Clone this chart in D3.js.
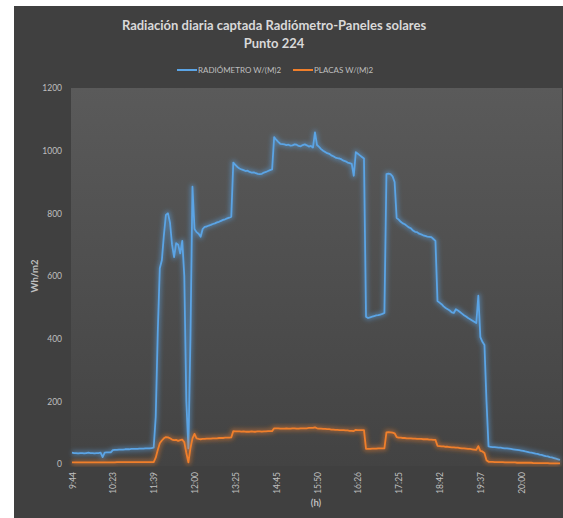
<!DOCTYPE html>
<html>
<head>
<meta charset="utf-8">
<script src="https://cdn.jsdelivr.net/npm/d3@7"></script>
<style>
  html, body { margin: 0; padding: 0; background: #ffffff; }
  svg { display: block; }
  text { font-family: Lato, "Open Sans", sans-serif; }
</style>
</head>
<body>
<svg id="chart" width="563" height="518"></svg>
<script>
// Sample times shown on the category axis (one label every 20 samples)
const timeLabels = ["9:44", "10:23", "11:39", "12:00", "13:25", "14:45", "15:50", "16:26", "17:25", "18:42", "19:37", "20:00"];
const samplesPerLabel = 20;

// Radiómetro readings, W/m²
const radiometro = [
  36, 35, 35, 34, 35, 35, 34, 35, 36, 35, 35, 34, 35, 35, 36, 22, 36, 37, 37, 37,
  44, 45, 45, 46, 46, 46, 47, 47, 47, 48, 48, 48, 48, 49, 49, 49, 50, 50, 50, 51,
  52, 150, 420, 625, 650, 730, 795, 800, 770, 700, 660, 705, 700, 672, 712, 600, 200, 50, 400, 885,
  750, 740, 735, 725, 750, 757, 758, 761, 763, 766, 768, 771, 773, 776, 779, 781, 784, 786, 789, 962,
  955, 948, 943, 940, 938, 935, 936, 932, 930, 931, 928, 926, 925, 926, 930, 932, 935, 938, 940, 1043,
  1035, 1028, 1022, 1021, 1020, 1018, 1019, 1016, 1017, 1020, 1019, 1015, 1014, 1018, 1020, 1017, 1013, 1015, 1010, 1058,
  1018, 1012, 1005, 1000, 996, 992, 990, 985, 982, 978, 976, 975, 972, 968, 966, 962, 960, 958, 920, 995,
  990, 985, 980, 975, 470, 466, 468, 470, 472, 474, 475, 477, 479, 482, 925, 927, 925, 918, 900, 785,
  780, 773, 768, 765, 760, 755, 752, 745, 741, 740, 735, 733, 730, 728, 726, 725, 724, 718, 712, 520,
  515, 510, 503, 498, 494, 490, 484, 482, 494, 490, 485, 480, 475, 471, 466, 462, 458, 454, 450, 537,
  405, 390, 380, 200, 56, 55, 54, 54, 53, 52, 52, 51, 50, 50, 49, 48, 47, 46, 45, 44,
  43, 42, 40, 39, 37, 36, 35, 33, 32, 30, 29, 27, 25, 24, 22, 21, 19, 17, 15, 13
];

// Placas (solar panels) readings, W/m²
const placas = [
  5, 5, 5, 5, 5, 5, 5, 5, 5, 5, 5, 5, 5, 5, 5, 5, 5, 5, 5, 5,
  5, 5, 6, 6, 6, 6, 6, 6, 6, 6, 6, 6, 6, 6, 6, 6, 6, 6, 6, 6,
  6, 20, 45, 66, 75, 82, 86, 85, 82, 78, 76, 77, 74, 76, 78, 70, 35, 5, 50, 82,
  96, 82, 80, 79, 80, 80, 81, 81, 81, 82, 82, 82, 83, 83, 83, 84, 84, 84, 85, 105,
  104, 104, 104, 103, 104, 103, 103, 103, 104, 103, 103, 104, 104, 103, 104, 104, 105, 105, 105, 114,
  114, 114, 113, 113, 113, 114, 113, 113, 114, 114, 113, 113, 114, 114, 114, 114, 115, 115, 115, 117,
  114, 113, 113, 112, 112, 111, 111, 110, 110, 109, 109, 108, 108, 108, 107, 107, 106, 106, 105, 109,
  108, 108, 108, 108, 48, 48, 48, 49, 49, 49, 50, 50, 50, 50, 101, 102, 101, 100, 98, 86,
  84, 84, 83, 83, 82, 82, 82, 81, 81, 80, 80, 80, 79, 79, 79, 78, 78, 77, 77, 58,
  57, 56, 56, 55, 55, 54, 53, 53, 52, 52, 51, 50, 50, 49, 48, 48, 47, 46, 45, 57,
  42, 40, 35, 12, 7, 7, 7, 6, 6, 6, 6, 6, 5, 5, 5, 5, 5, 5, 4, 4,
  4, 4, 4, 4, 4, 4, 3, 3, 3, 3, 3, 3, 3, 3, 2, 2, 2, 2, 2, 2
];

const yTicks = [0, 200, 400, 600, 800, 1000, 1200];

const seriesList = [
  { name: "RADIÓMETRO W/(M)2", values: radiometro, color: "#5ba4e5" },
  { name: "PLACAS W/(M)2", values: placas, color: "#f07f2b" }
];

const svg = d3.select("#chart");
const defs = svg.append("defs");

// plot-area gradient
const grad = defs.append("linearGradient").attr("id", "plotBg")
  .attr("x1", 0).attr("y1", 0).attr("x2", 0).attr("y2", 1);
grad.append("stop").attr("offset", "0%").attr("stop-color", "#5a5a5a");
grad.append("stop").attr("offset", "100%").attr("stop-color", "#434343");

// soft glow under each line
const glow = defs.append("filter").attr("id", "glow")
  .attr("x", "-10%").attr("y", "-10%").attr("width", "120%").attr("height", "120%");
glow.append("feGaussianBlur").attr("stdDeviation", 2.2);

// chart panel
svg.append("rect").attr("x", 14).attr("y", 6).attr("width", 549).attr("height", 512)
  .attr("fill", "#404040");

const plot = { left: 71, right: 562, top: 88, bottom: 466 };
svg.append("rect").attr("x", plot.left).attr("y", plot.top)
  .attr("width", plot.right - plot.left).attr("height", plot.bottom - plot.top)
  .attr("fill", "url(#plotBg)");

const n = radiometro.length;
const x = d3.scaleLinear().domain([0, n - 1]).range([72, 560]);
const y = d3.scaleLinear().domain([0, 1200]).range([464, 88]);

// title
const title = svg.append("text").attr("text-anchor", "middle")
  .attr("fill", "#d9d9d9").attr("font-weight", "bold").attr("font-size", 13);
title.append("tspan").attr("x", 274).attr("y", 30).text("Radiación diaria captada Radiómetro-Paneles solares");
title.append("tspan").attr("x", 274).attr("y", 48).text("Punto 224");

// legend
const legendItems = [
  { s: seriesList[0], lx: 177, tx: 198 },
  { s: seriesList[1], lx: 293, tx: 314 }
];
legendItems.forEach(d => {
  svg.append("line").attr("x1", d.lx).attr("x2", d.lx + 20).attr("y1", 70).attr("y2", 70)
    .attr("stroke", d.s.color).attr("stroke-width", 2);
  svg.append("text").attr("x", d.tx).attr("y", 73).attr("font-size", 8)
    .attr("fill", "#bfbfbf").text(d.s.name);
});

// y axis
const yAxis = d3.axisLeft(y).tickValues(yTicks).tickFormat(d3.format("d"))
  .tickSize(0).tickPadding(9);
const yg = svg.append("g").attr("transform", `translate(${plot.left},0)`).call(yAxis);
yg.select(".domain").remove();
yg.selectAll("text").attr("fill", "#bfbfbf").attr("font-size", 8.5)
  .attr("font-family", "Lato, 'Open Sans', sans-serif");

// x axis (category labels every samplesPerLabel samples)
const xAxis = d3.axisBottom(x)
  .tickValues(timeLabels.map((_, i) => i * samplesPerLabel))
  .tickFormat((d, i) => timeLabels[i])
  .tickSize(0);
const xg = svg.append("g").attr("transform", "translate(0,464)").call(xAxis);
xg.select(".domain").remove();
xg.selectAll("text")
  .attr("fill", "#bfbfbf").attr("font-size", 8.5)
  .attr("font-family", "Lato, 'Open Sans', sans-serif")
  .attr("text-anchor", "end")
  .attr("dy", null)
  .attr("transform", "translate(0,8) rotate(-90)")
  .attr("x", 0).attr("y", 3);

// axis titles
svg.append("text").attr("transform", "translate(38,276) rotate(-90)")
  .attr("text-anchor", "middle").attr("font-size", 9.5).attr("font-weight", "bold")
  .attr("fill", "#bfbfbf").text("Wh/m2");
svg.append("text").attr("x", 316).attr("y", 506).attr("text-anchor", "middle")
  .attr("font-size", 9.5).attr("font-weight", "bold").attr("fill", "#bfbfbf").text("(h)");

// series lines
const line = d3.line().x((d, i) => x(i)).y(d => y(d));
seriesList.forEach(s => {
  svg.append("path").datum(s.values).attr("d", line)
    .attr("fill", "none").attr("stroke", s.color).attr("stroke-width", 5)
    .attr("stroke-opacity", 0.45).attr("stroke-linejoin", "round")
    .attr("filter", "url(#glow)");
  svg.append("path").datum(s.values).attr("d", line)
    .attr("fill", "none").attr("stroke", s.color).attr("stroke-width", 1.8)
    .attr("stroke-linejoin", "round");
});
</script>
</body>
</html>
